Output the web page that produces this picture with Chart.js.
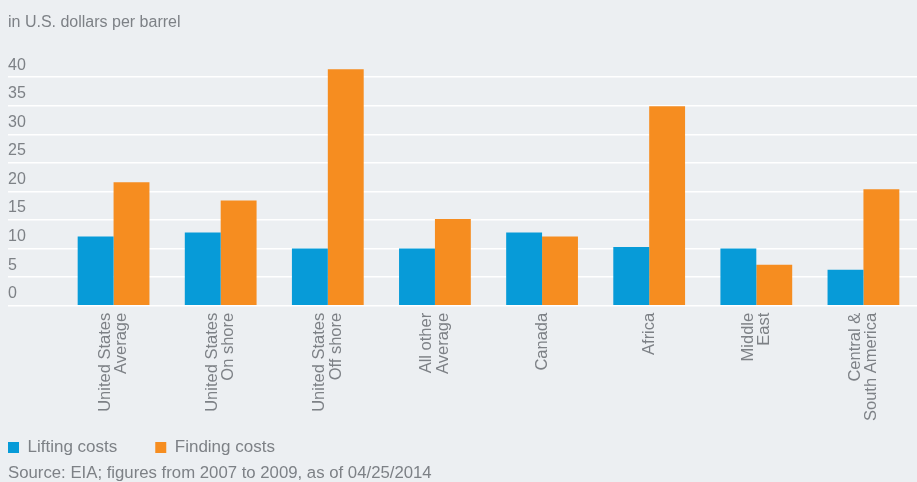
<!DOCTYPE html>
<html>
<head>
<meta charset="utf-8">
<script src="https://cdn.jsdelivr.net/npm/chart.js@4.4.1/dist/chart.umd.min.js"></script>
<style>
  html, body { margin: 0; padding: 0; background: #eceff2; }
</style>
</head>
<body>
<canvas id="myChart" width="917" height="482"></canvas>
<script>
  let categories = [
    ['United States', 'Average'],
    ['United States', 'On shore'],
    ['United States', 'Off shore'],
    ['All other', 'Average'],
    ['Canada'],
    ['Africa'],
    ['Middle', 'East'],
    ['Central &', 'South America']
  ];
  let liftingCosts = [12.1, 12.8, 10.0, 10.0, 12.8, 10.3, 10.0, 6.3];
  let findingCosts = [21.6, 18.4, 41.4, 15.2, 12.1, 34.9, 7.2, 20.4];
  let yTicks = [0, 5, 10, 15, 20, 25, 30, 35, 40];

  let textColor = '#7d8186';
  let fontFamily = "'Liberation Sans', Arial, sans-serif";

  // half-height spacer lines so one- and two-line labels both centre on the tick
  let xLabels = categories.map(c => c.length === 1 ? ['', c[0]] : [c[0], '', c[1]]);

  // legend: wide gap between items, but the first box sits flush left
  const legendShift = {
    id: 'legendShift',
    afterLayout(chart) {
      let lg = chart.legend;
      lg.left -= lg.options.labels.padding;
      lg.top -= 27;
      lg.bottom += 12;
    }
  };

  let ctx = document.getElementById('myChart').getContext('2d');
  let myChart = new Chart(ctx, {
    type: 'bar',
    data: {
      labels: xLabels,
      datasets: [{
        label: 'Lifting costs',
        data: liftingCosts,
        backgroundColor: '#079bd8',
        borderWidth: 0,
        categoryPercentage: 0.67,
        barPercentage: 1.0
      }, {
        label: 'Finding costs',
        data: findingCosts,
        backgroundColor: '#f68d20',
        borderWidth: 0,
        categoryPercentage: 0.67,
        barPercentage: 1.0
      }]
    },
    plugins: [legendShift],
    options: {
      responsive: false,
      animation: false,
      devicePixelRatio: 1,
      layout: { padding: { left: 8, right: -2, top: 0, bottom: 0 } },
      scales: {
        x: {
          grid: { display: false, drawTicks: false },
          border: { display: false },
          ticks: {
            color: textColor,
            font: { family: fontFamily, size: 16.5, lineHeight: 0.5 },
            minRotation: 90,
            maxRotation: 90,
            autoSkip: false,
            padding: 7,
            labelOffset: -8.25
          }
        },
        y: {
          min: 0,
          max: 42,
          afterBuildTicks: (scale) => { scale.ticks = yTicks.map(v => ({ value: v })); },
          afterFit: (scale) => { scale.width = 52; },
          border: { display: false },
          grid: { color: '#ffffff', lineWidth: 1.5, drawTicks: true, tickLength: 52 },
          ticks: {
            color: textColor,
            font: { family: fontFamily, size: 16 },
            crossAlign: 'far',
            labelOffset: -12,
            padding: 0
          }
        }
      },
      plugins: {
        title: {
          display: true,
          text: 'in U.S. dollars per barrel',
          align: 'start',
          color: textColor,
          font: { family: fontFamily, size: 16, weight: 'normal' },
          padding: { top: 13, bottom: 33.5 }
        },
        subtitle: {
          display: true,
          text: 'Source: EIA; figures from 2007 to 2009, as of 04/25/2014',
          position: 'bottom',
          align: 'start',
          color: textColor,
          font: { family: fontFamily, size: 16.75, lineHeight: 1 },
          padding: { top: 17.25, bottom: 0 }
        },
        legend: {
          position: 'bottom',
          align: 'start',
          maxHeight: 20,
          labels: {
            boxWidth: 11,
            boxHeight: 11,
            padding: 38,
            color: textColor,
            font: { family: fontFamily, size: 17 }
          }
        },
        tooltip: { enabled: false }
      }
    }
  });
</script>
</body>
</html>
